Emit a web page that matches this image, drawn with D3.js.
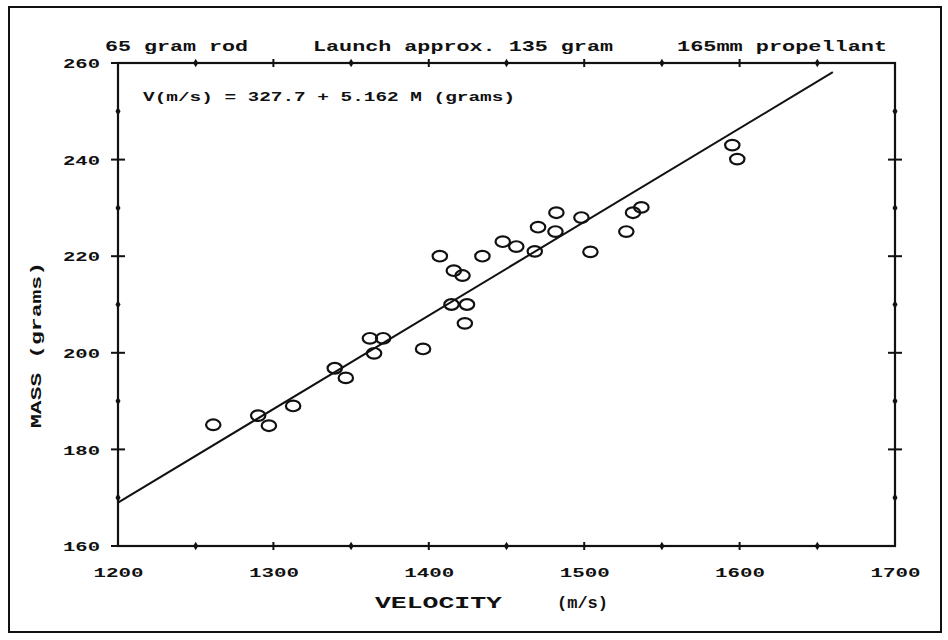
<!DOCTYPE html>
<html>
<head>
<meta charset="utf-8">
<script src="https://cdn.jsdelivr.net/npm/d3@7"></script>
<style>
  html, body { margin: 0; padding: 0; background: #fff; }
  svg { display: block; }
  text { font-family: "Liberation Mono", "DejaVu Sans Mono", monospace; font-weight: bold; fill: #111; }
</style>
</head>
<body>
<svg id="chart" width="948" height="640"></svg>
<script>
// ---- data ----
const velocity = [1261.3, 1290.2, 1297.1, 1312.7, 1339.5, 1346.6, 1362.1, 1370.6, 1364.8, 1396.3,
                  1407.1, 1416.1, 1421.7, 1414.6, 1424.6, 1423.2, 1434.5, 1447.6, 1456.3, 1468.2,
                  1470.3, 1482.1, 1481.5, 1498.2, 1504.0, 1527.1, 1531.4, 1536.8, 1595.3, 1598.5];
const mass     = [185.1, 187.0, 184.9, 189.0, 196.8, 194.8, 203.0, 203.0, 199.9, 200.8,
                  220.0, 217.0, 216.0, 210.0, 210.0, 206.1, 220.0, 223.0, 222.0, 221.0,
                  226.0, 229.0, 225.1, 228.0, 220.9, 225.1, 229.0, 230.1, 243.0, 240.1];
const fitIntercept = 327.7;
const fitSlope = 5.162;
const fitVelocityRange = [1200, 1660];
const xTicks = [1200, 1300, 1400, 1500, 1600, 1700];
const xMinorTicks = [1250, 1350, 1450, 1550, 1650];
const yTicks = [160, 180, 200, 220, 240, 260];
const yMinorTicks = [170, 190, 210, 230, 250];
const titleParts = ["65 gram rod", "Launch approx. 135 gram", "165mm propellant"];
const equationText = "V(m/s) = 327.7 + 5.162 M (grams)";
const xTitleParts = ["VELOCITY", "(m/s)"];
const yTitle = "MASS   (grams)";

// ---- layout ----
const svg = d3.select("#chart");
const x = d3.scaleLinear().domain([1200, 1700]).range([118, 895]);
const y = d3.scaleLinear().domain([160, 260]).range([546, 63]);
const ink = "#111";

// outer frame
svg.append("rect").attr("x", 9).attr("y", 7).attr("width", 932).attr("height", 625)
  .attr("fill", "none").attr("stroke", ink).attr("stroke-width", 2);

// plot box
svg.append("rect")
  .attr("x", x(1200)).attr("y", y(260))
  .attr("width", x(1700) - x(1200)).attr("height", y(160) - y(260))
  .attr("fill", "none").attr("stroke", ink).attr("stroke-width", 2.2);

// tick labels via d3 axes (tick lines hidden, drawn separately)
const xAxis = svg.append("g").attr("transform", `translate(0,${y(160)})`)
  .call(d3.axisBottom(x).tickValues(xTicks).tickSize(0).tickPadding(0).tickFormat(d3.format("d")));
xAxis.select(".domain").remove();
xAxis.selectAll("text").attr("y", 31).attr("dy", 0).attr("font-size", 13)
  .attr("textLength", 50).attr("lengthAdjust", "spacingAndGlyphs")
  .style("font-family", '"Liberation Mono", monospace').style("font-weight", "bold");

const yAxis = svg.append("g").attr("transform", `translate(${x(1200)},0)`)
  .call(d3.axisLeft(y).tickValues(yTicks).tickSize(0).tickPadding(0).tickFormat(d3.format("d")));
yAxis.select(".domain").remove();
yAxis.selectAll("text").attr("x", -18).attr("dy", "0.36em").attr("font-size", 13)
  .attr("textLength", 37).attr("lengthAdjust", "spacingAndGlyphs")
  .style("font-family", '"Liberation Mono", monospace').style("font-weight", "bold");

// major tick crosses
const tg = svg.append("g").attr("stroke", ink).attr("stroke-width", 2);
[x(1200), x(1700)].forEach(ax => {
  tg.selectAll(null).data(yTicks.slice(1, -1)).join("line")
    .attr("x1", ax - 7).attr("x2", ax + 7).attr("y1", d => y(d)).attr("y2", d => y(d));
});
[y(160), y(260)].forEach(ay => {
  tg.selectAll(null).data(xTicks.slice(1, -1)).join("line")
    .attr("x1", d => x(d)).attr("x2", d => x(d)).attr("y1", ay - 4).attr("y2", ay + 4);
});
tg.selectAll(null).data([160]).join("line")
  .attr("x1", x(1200) - 7).attr("x2", x(1200)).attr("y1", d => y(d)).attr("y2", d => y(d));
tg.selectAll(null).data([260]).join("line")
  .attr("x1", x(1200) - 7).attr("x2", x(1200)).attr("y1", d => y(d)).attr("y2", d => y(d));

// minor ticks as small diamonds
const diamond = d3.symbol().type(d3.symbolDiamond).size(22);
const mg = svg.append("g").attr("fill", ink);
[x(1200), x(1700)].forEach(ax => {
  mg.selectAll(null).data(yMinorTicks).join("path").attr("d", diamond)
    .attr("transform", d => `translate(${ax},${y(d)})`);
});
[y(160), y(260)].forEach(ay => {
  mg.selectAll(null).data(xMinorTicks).join("path").attr("d", diamond)
    .attr("transform", d => `translate(${x(d)},${ay})`);
});

// regression line
svg.append("line")
  .attr("x1", x(fitVelocityRange[0])).attr("y1", y((fitVelocityRange[0] - fitIntercept) / fitSlope))
  .attr("x2", x(fitVelocityRange[1])).attr("y2", y((fitVelocityRange[1] - fitIntercept) / fitSlope))
  .attr("stroke", ink).attr("stroke-width", 2);

// data points (open ellipses)
const pts = velocity.map((v, i) => ({ v, m: mass[i] }));
svg.append("g").selectAll("ellipse").data(pts).join("ellipse")
  .attr("cx", d => x(d.v)).attr("cy", d => y(d.m))
  .attr("rx", 7.2).attr("ry", 5.3)
  .attr("fill", "none").attr("stroke", ink).attr("stroke-width", 2.2);

// title parts
const titleX = [105, 313, 677];
const titleLen = [143, 300, 210];
titleParts.forEach((t, i) => {
  svg.append("text").attr("x", titleX[i]).attr("y", 51).attr("font-size", 14)
    .attr("textLength", titleLen[i]).attr("lengthAdjust", "spacingAndGlyphs").text(t);
});

// equation
svg.append("text").attr("x", 143).attr("y", 101).attr("font-size", 13)
  .attr("textLength", 372).attr("lengthAdjust", "spacingAndGlyphs").text(equationText);

// axis titles
svg.append("text").attr("x", 375).attr("y", 608).attr("font-size", 17)
  .attr("textLength", 127).attr("lengthAdjust", "spacingAndGlyphs").text(xTitleParts[0]);
svg.append("text").attr("x", 557).attr("y", 608).attr("font-size", 17)
  .attr("textLength", 51).attr("lengthAdjust", "spacingAndGlyphs").text(xTitleParts[1]);

svg.append("text")
  .attr("transform", "translate(41,428) rotate(-90)")
  .attr("font-size", 15)
  .attr("textLength", 166).attr("lengthAdjust", "spacingAndGlyphs")
  .text(yTitle);
</script>
</body>
</html>
